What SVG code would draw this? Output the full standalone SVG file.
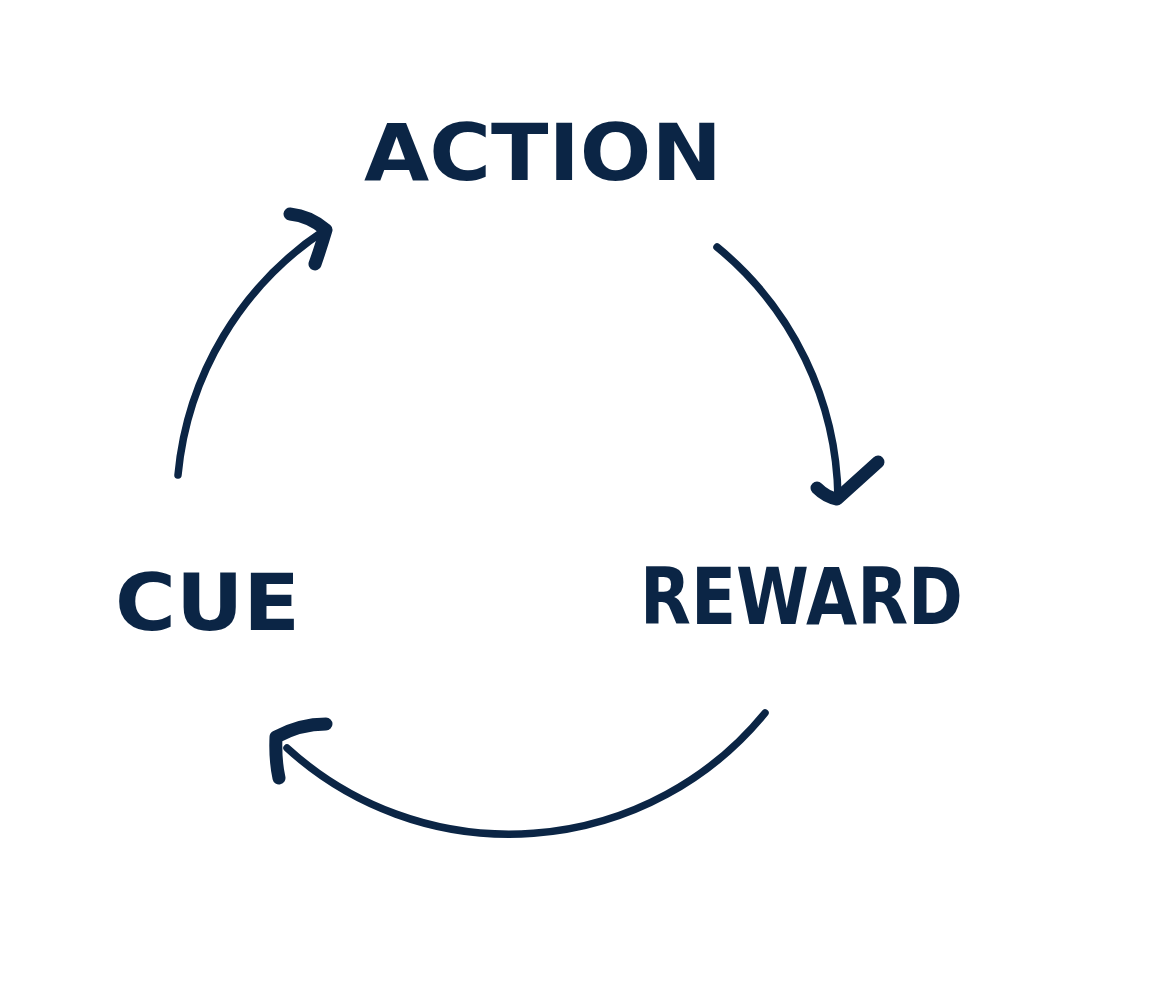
<svg xmlns="http://www.w3.org/2000/svg" width="1158" height="1000" viewBox="0 0 1158 1000">
<style>
.lbl{font-family:"DejaVu Sans","Liberation Sans",sans-serif;font-weight:bold;font-size:78px;fill:#0b2545}
.arc{fill:none;stroke:#0b2545;stroke-width:7.5;stroke-linecap:round}
.head{fill:none;stroke:#0b2545;stroke-width:13;stroke-linecap:round;stroke-linejoin:round}
</style>
<rect width="1158" height="1000" fill="#ffffff"/>
<g id="action"><text class="lbl" x="364" y="180" textLength="358" lengthAdjust="spacingAndGlyphs">ACTION</text></g>
<g id="reward"><text class="lbl" x="640" y="624" textLength="323" lengthAdjust="spacingAndGlyphs">REWARD</text></g>
<g id="cue"><text class="lbl" x="115" y="630" textLength="185" lengthAdjust="spacingAndGlyphs">CUE</text></g>
<g id="connectors">
<path class="arc" d="M178 475 A330 330 0 0 1 325 230"/>
<path class="head" d="M290 214 Q310 216 326 230 Q320 250 315 264"/>
<path class="arc" d="M717 247 A330 330 0 0 1 838 498"/>
<path class="head" d="M817 488 Q826 497 837 499 Q858 480 878 462"/>
<path class="arc" d="M765 713 A330 330 0 0 1 287 748"/>
<path class="head" d="M326 724 Q300 724 276 737 Q275 760 279 778"/>
</g>
</svg>
